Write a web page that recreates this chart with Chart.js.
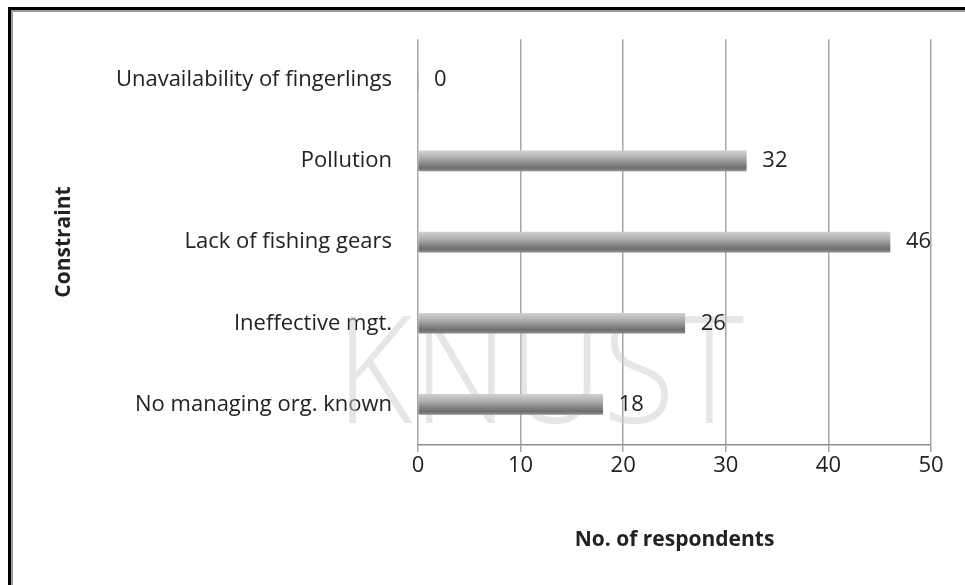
<!DOCTYPE html>
<html>
<head>
<meta charset="utf-8">
<script src="https://cdn.jsdelivr.net/npm/chart.js@4.4.0/dist/chart.umd.min.js"></script>
<style>
  body { margin: 0; background: #fff; }
  #wrap { position: relative; width: 965px; height: 585px; }
  #frame {
    position: absolute; left: 8px; top: 7px; right: -10px; bottom: -10px;
    border-left: 3px solid #000; border-top: 3px solid #000;
    box-shadow: inset 2px 2px 0 #999;
    pointer-events: none;
  }
</style>
</head>
<body>
<div id="wrap">
  <canvas id="chart" width="965" height="585"></canvas>
  <div id="frame"></div>
</div>
<script>
// data (top to bottom)
const constraints = [
  "Unavailability of fingerlings",
  "Pollution",
  "Lack of fishing gears",
  "Ineffective mgt.",
  "No managing org. known"
];
const respondents = [0, 32, 46, 26, 18];
const xTicks = [0, 10, 20, 30, 40, 50];

const FONT = "'Open Sans', 'DejaVu Sans', sans-serif";
const BAR_H = 20;

// grey cylinder look for each bar
function barFill(ctx) {
  const chart = ctx.chart;
  const yScale = chart.scales.y;
  if (!yScale || ctx.dataIndex === undefined) return '#999';
  const yc = yScale.getPixelForValue(ctx.dataIndex);
  if (!isFinite(yc)) return '#999';
  const g = chart.ctx.createLinearGradient(0, yc - BAR_H / 2, 0, yc + BAR_H / 2);
  g.addColorStop(0, '#cfcfcf');
  g.addColorStop(0.3, '#b3b3b3');
  g.addColorStop(0.6, '#8c8c8c');
  g.addColorStop(0.85, '#6d6d6d');
  g.addColorStop(1, '#8e8e8e');
  return g;
}

// faint watermark behind the bars
const watermark = {
  id: 'watermark',
  beforeDatasetsDraw(chart) {
    const c = chart.ctx;
    c.save();
    c.fillStyle = 'rgba(205,205,205,0.5)';
    c.font = "300 150px " + FONT;
    c.textAlign = 'center';
    c.textBaseline = 'middle';
    c.translate(540, 380);
    c.scale(0.88, 1);
    c.fillText('KNUST', 0, 0);
    c.restore();
  }
};

// value labels to the right of each bar
const valueLabels = {
  id: 'valueLabels',
  afterDatasetsDraw(chart) {
    const c = chart.ctx;
    const meta = chart.getDatasetMeta(0);
    c.save();
    c.fillStyle = '#222';
    c.font = "22px " + FONT;
    c.textBaseline = 'middle';
    meta.data.forEach((bar, i) => {
      c.fillText(String(respondents[i]), bar.x + 16, bar.y);
    });
    c.restore();
  }
};

new Chart(document.getElementById('chart'), {
  type: 'bar',
  data: {
    labels: constraints,
    datasets: [{
      data: respondents,
      backgroundColor: barFill,
      borderWidth: 0,
      barThickness: BAR_H
    }]
  },
  options: {
    indexAxis: 'y',
    responsive: false,
    animation: false,
    layout: { padding: { left: 51, right: 34, top: 38, bottom: 28 } },
    plugins: {
      legend: { display: false },
      tooltip: { enabled: false }
    },
    scales: {
      x: {
        min: 0,
        max: 50,
        afterBuildTicks(scale) { scale.ticks = xTicks.map(v => ({ value: v })); },
        grid: { color: '#a6a6a6', lineWidth: 1.5, tickLength: 7, drawOnChartArea: true },
        border: { color: '#8c8c8c', width: 1.5 },
        ticks: { color: '#222', font: { family: FONT, size: 22 }, padding: 1 },
        title: {
          display: true, text: 'No. of respondents', color: '#222',
          font: { family: FONT, size: 21, weight: 'bold' },
          padding: { top: 30 }
        },
        afterFit(scale) { scale.height = 112; }
      },
      y: {
        grid: { display: false, drawTicks: false },
        border: { display: false },
        ticks: { color: '#222', font: { family: FONT, size: 22 }, padding: 26 },
        title: {
          display: true, text: 'Constraint', color: '#222',
          font: { family: FONT, size: 21, weight: 'bold' },
          padding: { top: 0, bottom: 0 }
        },
        afterFit(scale) { scale.width = 367; }
      }
    }
  },
  plugins: [watermark, valueLabels]
});
</script>
</body>
</html>
